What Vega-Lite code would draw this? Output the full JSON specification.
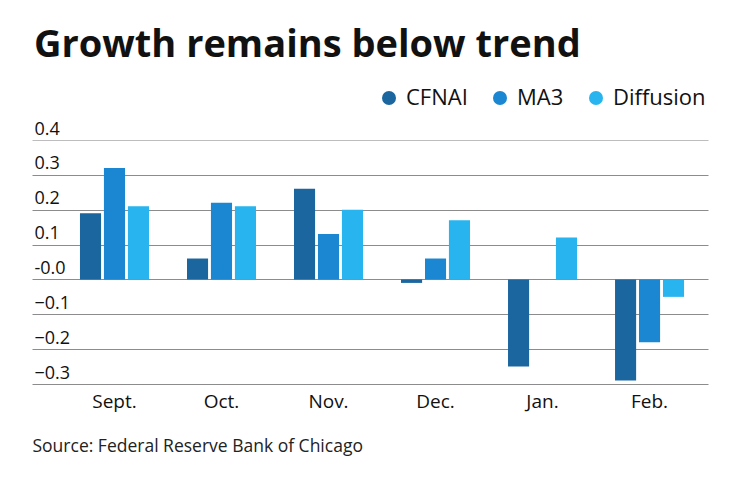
{
  "$schema": "https://vega.github.io/schema/vega-lite/v6.json",
  "autosize": {"type": "none"},
  "width": 676,
  "height": 244,
  "padding": {"left": 32, "top": 140, "right": 32, "bottom": 98},
  "background": "white",
  "title": {
    "text": "Growth remains below trend",
    "anchor": "start",
    "frame": "group",
    "font": "Open Sans",
    "fontSize": 38,
    "fontWeight": "bold",
    "color": "#111111",
    "baseline": "alphabetic",
    "dx": 2,
    "offset": 0,
    "dy": 8
  },
  "data": {
    "values": [
      {"month": "Sept.", "series": "CFNAI", "value": 0.19},
      {"month": "Sept.", "series": "MA3", "value": 0.32},
      {"month": "Sept.", "series": "Diffusion", "value": 0.21},
      {"month": "Oct.", "series": "CFNAI", "value": 0.06},
      {"month": "Oct.", "series": "MA3", "value": 0.22},
      {"month": "Oct.", "series": "Diffusion", "value": 0.21},
      {"month": "Nov.", "series": "CFNAI", "value": 0.26},
      {"month": "Nov.", "series": "MA3", "value": 0.13},
      {"month": "Nov.", "series": "Diffusion", "value": 0.20},
      {"month": "Dec.", "series": "CFNAI", "value": -0.01},
      {"month": "Dec.", "series": "MA3", "value": 0.06},
      {"month": "Dec.", "series": "Diffusion", "value": 0.17},
      {"month": "Jan.", "series": "CFNAI", "value": -0.25},
      {"month": "Jan.", "series": "MA3", "value": 0.0},
      {"month": "Jan.", "series": "Diffusion", "value": 0.12},
      {"month": "Feb.", "series": "CFNAI", "value": -0.29},
      {"month": "Feb.", "series": "MA3", "value": -0.18},
      {"month": "Feb.", "series": "Diffusion", "value": -0.05}
    ]
  },
  "mark": {"type": "bar"},
  "encoding": {
    "x": {
      "field": "month",
      "type": "nominal",
      "sort": ["Sept.", "Oct.", "Nov.", "Dec.", "Jan.", "Feb."],
      "scale": {"paddingInner": 0.355, "paddingOuter": 0.336, "align": 0.667},
      "axis": {
        "title": "Source: Federal Reserve Bank of Chicago",
        "titleFont": "Open Sans",
        "titleFontSize": 17.5,
        "titleFontWeight": "normal",
        "titleColor": "#222222",
        "titleAnchor": "start",
        "titleAlign": "left",
        "titleBaseline": "alphabetic",
        "titleX": 0,
        "titleY": 67,
        "domain": false,
        "ticks": false,
        "tickSize": 0,
        "labelAngle": 0,
        "labelFont": "Open Sans",
        "labelFontSize": 19,
        "labelColor": "#111111",
        "labelBaseline": "alphabetic",
        "labelPadding": 23
      }
    },
    "xOffset": {
      "field": "series",
      "type": "nominal",
      "sort": ["CFNAI", "MA3", "Diffusion"],
      "scale": {"paddingInner": 0.12, "paddingOuter": 0}
    },
    "y": {
      "field": "value",
      "type": "quantitative",
      "scale": {"domain": [-0.3, 0.4], "nice": false, "zero": false},
      "axis": {
        "title": null,
        "values": [-0.3, -0.2, -0.1, 0, 0.1, 0.2, 0.3, 0.4],
        "labelExpr": "datum.value == 0 ? '-0.0' : format(datum.value, '.1f')",
        "domain": false,
        "ticks": false,
        "tickSize": 0,
        "grid": true,
        "gridColor": {"condition": {"test": "datum.value == 0.4", "value": "#bdbdbd"}, "value": "#8c8c8c"},
        "gridWidth": 1,
        "labelAlign": "left",
        "labelBaseline": "alphabetic",
        "labelPadding": -2,
        "labelOffset": -6,
        "labelFlush": false,
        "labelOverlap": false,
        "labelFont": "Open Sans",
        "labelFontSize": 18,
        "labelColor": "#111111"
      }
    },
    "color": {
      "field": "series",
      "type": "nominal",
      "sort": ["CFNAI", "MA3", "Diffusion"],
      "scale": {"domain": ["CFNAI", "MA3", "Diffusion"], "range": ["#1c669f", "#1b86d2", "#27b4ef"]},
      "legend": {
        "title": null,
        "orient": "none",
        "direction": "horizontal",
        "legendX": 346,
        "legendY": -53,
        "symbolType": "circle",
        "symbolSize": 196,
        "symbolStrokeWidth": 0,
        "labelFont": "Open Sans",
        "labelFontSize": 22,
        "labelColor": "#111111",
        "labelOffset": 6,
        "columnPadding": 21,
        "padding": 0
      }
    }
  },
  "config": {
    "view": {"stroke": null},
    "bar": {"stroke": null}
  }
}
